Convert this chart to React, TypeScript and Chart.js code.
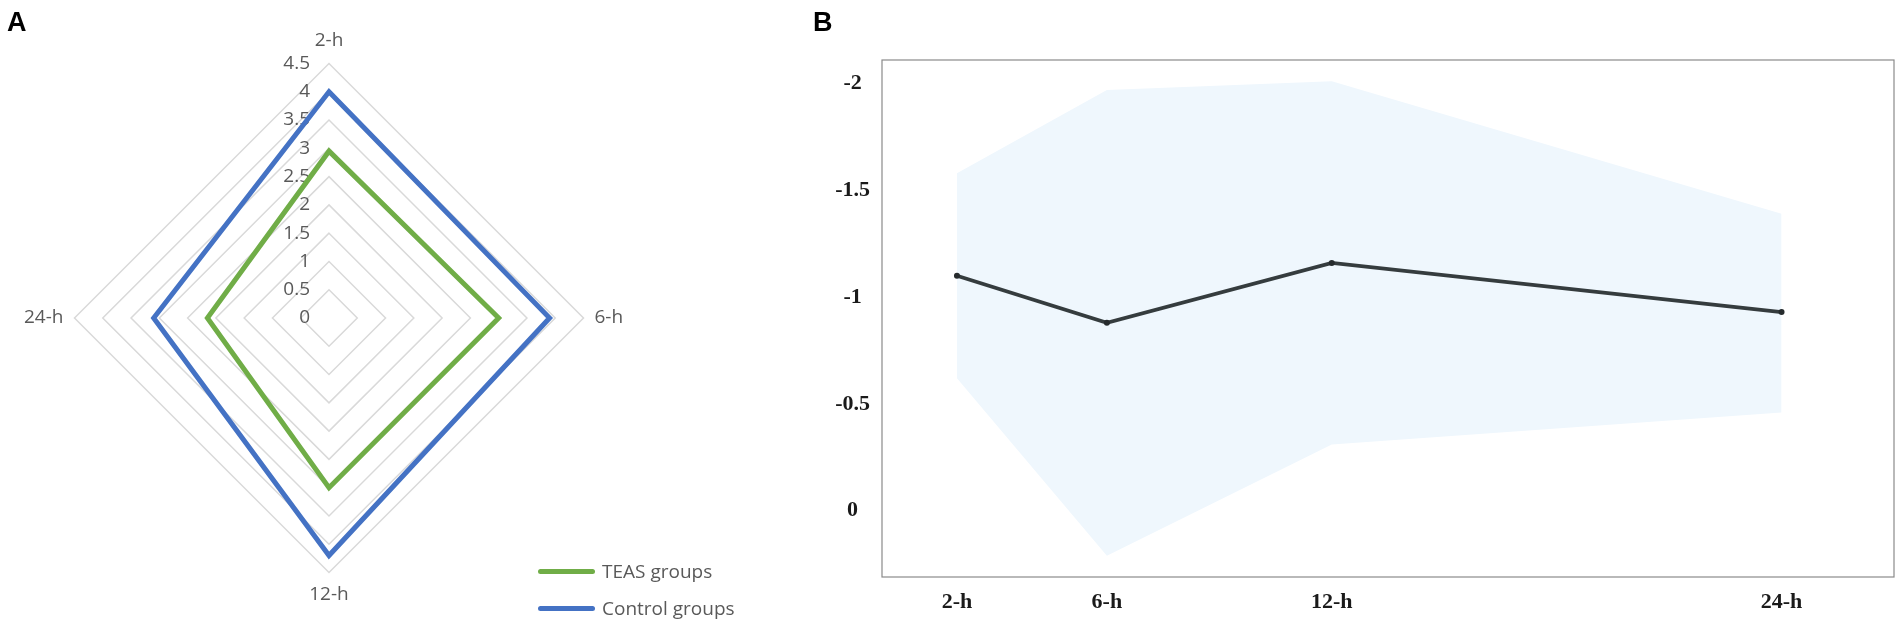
import { useEffect, useRef } from "react";
import { Chart, registerables, Plugin } from "chart.js";
Chart.register(...registerables);

// panel A: radar
const radarLabels = ["2-h", "6-h", "12-h", "24-h"];
const teasValues = [2.95, 3.0, 3.0, 2.15];
const controlValues = [4.0, 3.9, 4.2, 3.1];
const radarTicks = [0, 0.5, 1, 1.5, 2, 2.5, 3, 3.5, 4, 4.5];

// panel B: mean difference with band
const hours = [2, 6, 12, 24];
const hourLabels = ["2-h", "6-h", "12-h", "24-h"];
const meanDiff = [-1.1, -0.88, -1.16, -0.93];
const bandLow = [-1.58, -1.97, -2.01, -1.39];
const bandHigh = [-0.62, 0.21, -0.31, -0.46];
const yTicks = [-2, -1.5, -1, -0.5, 0];

const grey = "#595959";

const RadarPanel = () => {
  const ref = useRef<HTMLCanvasElement>(null);

  useEffect(() => {
    if (!ref.current) return;

    const tickText: Plugin = {
      id: "tickText",
      beforeDatasetsDraw(chart) {
        const s: any = chart.scales.r;
        const ctx = chart.ctx;
        ctx.save();
        ctx.font = '19px "Open Sans"';
        ctx.fillStyle = grey;
        ctx.textAlign = "right";
        ctx.textBaseline = "middle";
        radarTicks.forEach((v) => {
          ctx.fillText(String(v), s.xCenter - 19, s.yCenter - s.getDistanceFromCenterForValue(v));
        });
        ctx.restore();
      },
    };

    const chart = new Chart(ref.current, {
      type: "radar",
      data: {
        labels: radarLabels,
        datasets: [
          { label: "TEAS groups", data: teasValues, borderColor: "#70ad47", borderWidth: 5, pointRadius: 0, fill: false },
          { label: "Control groups", data: controlValues, borderColor: "#4472c4", borderWidth: 5, pointRadius: 0, fill: false },
        ],
      },
      options: {
        animation: false,
        responsive: true,
        maintainAspectRatio: false,
        layout: { padding: { left: 19, top: 13, right: 10, bottom: 4 } },
        plugins: { legend: { display: false }, tooltip: { enabled: false } },
        scales: {
          r: {
            min: 0,
            max: 4.5,
            ticks: { display: false, stepSize: 0.5 },
            grid: { color: "#d9d9d9", lineWidth: 1.5 },
            angleLines: { display: false },
            pointLabels: { font: { family: "Open Sans", size: 19 }, color: grey, padding: 11 },
          },
        },
      },
      plugins: [tickText],
    });

    return () => chart.destroy();
  }, []);

  return <canvas ref={ref}></canvas>;
};

const LinePanel = () => {
  const ref = useRef<HTMLCanvasElement>(null);

  useEffect(() => {
    if (!ref.current) return;

    const frame: Plugin = {
      id: "frame",
      beforeDatasetsDraw(chart) {
        const { left, top, width, height } = chart.chartArea;
        const ctx = chart.ctx;
        ctx.save();
        ctx.strokeStyle = "#8a8a8a";
        ctx.lineWidth = 1.2;
        ctx.strokeRect(left, top, width, height);
        ctx.restore();
      },
    };

    const serif = { family: '"Liberation Serif", "Times New Roman", serif', size: 22, weight: "bold" as const };

    const chart = new Chart(ref.current, {
      type: "line",
      data: {
        datasets: [
          {
            label: "mean",
            data: hours.map((h, i) => ({ x: h, y: meanDiff[i] })),
            borderColor: "#353c3e",
            borderWidth: 3.8,
            pointRadius: 3,
            pointBackgroundColor: "#262b2d",
            pointBorderWidth: 0,
            fill: false,
          },
          {
            label: "upper",
            data: hours.map((h, i) => ({ x: h, y: bandLow[i] })),
            borderWidth: 0,
            borderColor: "transparent",
            pointRadius: 0,
            backgroundColor: "rgb(239,247,253)",
            fill: "+1",
          },
          {
            label: "lower",
            data: hours.map((h, i) => ({ x: h, y: bandHigh[i] })),
            borderWidth: 0,
            borderColor: "transparent",
            pointRadius: 0,
            fill: false,
          },
        ],
      },
      options: {
        animation: false,
        responsive: true,
        maintainAspectRatio: false,
        layout: { padding: { left: 0, top: 60, right: 8, bottom: 0 } },
        plugins: { legend: { display: false }, tooltip: { enabled: false } },
        scales: {
          x: {
            type: "linear",
            min: 0,
            max: 27,
            grid: { display: false, drawTicks: false },
            border: { display: false },
            afterBuildTicks: (s: any) => {
              s.ticks = hours.map((h) => ({ value: h }));
            },
            afterFit: (s: any) => {
              s.height = 51;
            },
            ticks: {
              autoSkip: false,
              maxRotation: 0,
              padding: 12,
              color: "#1a1a1a",
              font: serif,
              callback: (v: any) => hourLabels[hours.indexOf(Number(v))] ?? "",
            },
          },
          y: {
            type: "linear",
            reverse: true,
            min: -2.11,
            max: 0.31,
            grid: { display: false, drawTicks: false },
            border: { display: false },
            afterBuildTicks: (s: any) => {
              s.ticks = yTicks.map((v) => ({ value: v }));
            },
            afterFit: (s: any) => {
              s.width = 60;
            },
            ticks: {
              crossAlign: "center",
              padding: 12,
              color: "#1a1a1a",
              font: serif,
              callback: (v: any) => String(Number(v)),
            },
          },
        },
      },
      plugins: [frame],
    });

    return () => chart.destroy();
  }, []);

  return <canvas ref={ref}></canvas>;
};

const letterStyle: React.CSSProperties = {
  position: "absolute",
  top: 9,
  fontFamily: '"Liberation Sans", Arial, sans-serif',
  fontWeight: "bold",
  fontSize: 27,
  lineHeight: 1,
  color: "#000",
};

const LegendRow = (props: { color: string; label: string; y: number }) => (
  <div
    style={{
      position: "absolute",
      left: 538,
      top: props.y - 14,
      height: 28,
      display: "flex",
      alignItems: "center",
      fontFamily: '"Open Sans", sans-serif',
      fontSize: 19,
      color: grey,
      whiteSpace: "nowrap",
    }}
  >
    <span style={{ display: "inline-block", width: 57, height: 5, borderRadius: 3, background: props.color, marginRight: 7 }} />
    {props.label}
  </div>
);

export default function App() {
  return (
    <div style={{ position: "fixed", left: 0, top: 0, width: 1902, height: 628, background: "#fff", overflow: "hidden" }}>
      <div style={{ position: "absolute", left: 0, top: 0, width: 640, height: 628 }}>
        <RadarPanel />
      </div>
      <div style={{ position: "absolute", left: 822, top: 0, width: 1080, height: 628 }}>
        <LinePanel />
      </div>
      <div style={{ ...letterStyle, left: 7 }}>A</div>
      <div style={{ ...letterStyle, left: 813 }}>B</div>
      <LegendRow color="#70ad47" label="TEAS groups" y={571} />
      <LegendRow color="#4472c4" label="Control groups" y={608} />
    </div>
  );
}
